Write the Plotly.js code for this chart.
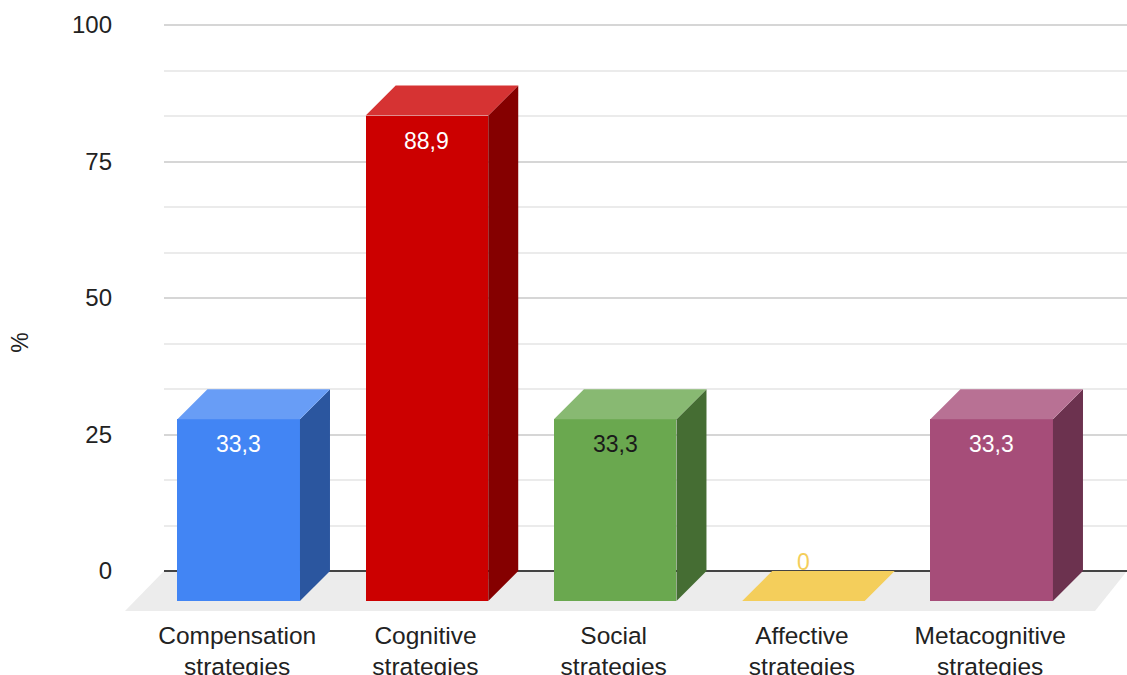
<!DOCTYPE html>
<html>
<head>
<meta charset="utf-8">
<script src="https://cdn.plot.ly/plotly-3.0.1.min.js"></script>
<style>html,body{margin:0;padding:0;background:#fff;overflow:hidden}#chart{width:1127px;height:675px}</style>
</head>
<body>
<div id="chart"></div>
<script>
// Share of learners per strategy group, in percent.
const categories = ["Compensation<br>strategies", "Cognitive<br>strategies", "Social<br>strategies", "Affective<br>strategies", "Metacognitive<br>strategies"];
const values = [33.3, 88.9, 33.3, 0, 33.3];
const frontColors = ["#4285f4", "#cc0000", "#6aa84f", "#f1c232", "#a64d79"];
const topColors = ["#689df6", "#d63333", "#88b972", "#f4ce5b", "#b87194"];
const sideColors = ["#2b569f", "#850000", "#456d33", "#9d7e21", "#6c324f"];
const labelColors = ["#ffffff", "#ffffff", "#1a1a1a", "#f4ce5b", "#ffffff"];
const yTicks = [0, 25, 50, 75, 100];

// Extrusion of the bars, in axis units.
const barWidth = 0.651;
const depthX = 0.1594;
const depthY = 5.495;
const positions = values.map((_, i) => i);
const formatValue = v => String(v).replace(".", ",");
const FONT = "Liberation Sans, Arial, sans-serif";

const face = (xs, ys, color) => ({
  type: "scatter", mode: "lines", x: xs, y: ys, fill: "toself", fillcolor: color,
  line: {width: 0, color: color}, hoverinfo: "skip", showlegend: false
});

const traces = [{
  type: "bar", x: positions, y: values, base: -depthY, width: barWidth,
  marker: {color: frontColors, line: {width: 0}}, showlegend: false
}];

values.forEach((v, i) => {
  const left = i - barWidth / 2, right = i + barWidth / 2;
  traces.push(face(
    [right, right + depthX, right + depthX, right, right],
    [-depthY, 0, v, v - depthY, -depthY], sideColors[i]));
  traces.push(face(
    [left, left + depthX, right + depthX, right, left],
    [v - depthY, v, v, v - depthY, v - depthY], topColors[i]));
});

// Value labels: inside the front face, or just behind the floor face when the bar is flat.
const valueLabels = values.map((v, i) => ({
  x: i, y: v > 0 ? v - depthY : 0, yshift: v > 0 ? -25 : 9,
  text: formatValue(v), showarrow: false, xanchor: "center", yanchor: "middle",
  font: {family: FONT, size: 23, color: labelColors[i]}
}));

const layout = {
  width: 1127, height: 675,
  margin: {l: 164, r: 0, t: 22, b: 64, pad: 0},
  paper_bgcolor: "#ffffff", plot_bgcolor: "rgba(0,0,0,0)",
  showlegend: false, bargap: 0,
  xaxis: {
    range: [-0.3968, 4.7188], tickmode: "array", tickvals: positions.map(p => p - 0.008), ticktext: categories,
    showgrid: false, zeroline: false, showline: false, ticks: "",
    ticklabelstandoff: 7, tickfont: {family: FONT, size: 24.5, color: "#222222"}
  },
  yaxis: {
    // The top end leaves room so the 100 gridline is kept by the axis.
    range: [-7.326, 100.549], tickmode: "array", tickvals: yTicks, ticktext: yTicks.map(String),
    showgrid: true, gridcolor: "#d6d6d6", gridwidth: 2,
    zeroline: true, zerolinecolor: "#444444", zerolinewidth: 2,
    showline: false, ticks: "", ticklabelstandoff: 51,
    tickfont: {family: FONT, size: 24, color: "#222222"},
    minor: {tickmode: "linear", tick0: 0, dtick: 25 / 3, showgrid: true, gridcolor: "#ebebeb", gridwidth: 2, ticks: ""}
  },
  shapes: [{
    // Floor of the chart box, reaching past the left edge of the plot area.
    type: "path", xref: "paper", yref: "y", layer: "below",
    path: "M -0.0405 -7.326 L 0 0 L 1 0 L 0.9668 -7.326 Z",
    fillcolor: "#ececec", line: {width: 0}
  }],
  annotations: valueLabels.concat([{
    xref: "paper", yref: "paper", x: -0.1495, y: 0.4556, text: "%", textangle: -90,
    showarrow: false, xanchor: "center", yanchor: "middle",
    font: {family: FONT, size: 23, color: "#222222"}
  }])
};

Plotly.newPlot("chart", traces, layout, {displayModeBar: false, staticPlot: true});
</script>
</body>
</html>
